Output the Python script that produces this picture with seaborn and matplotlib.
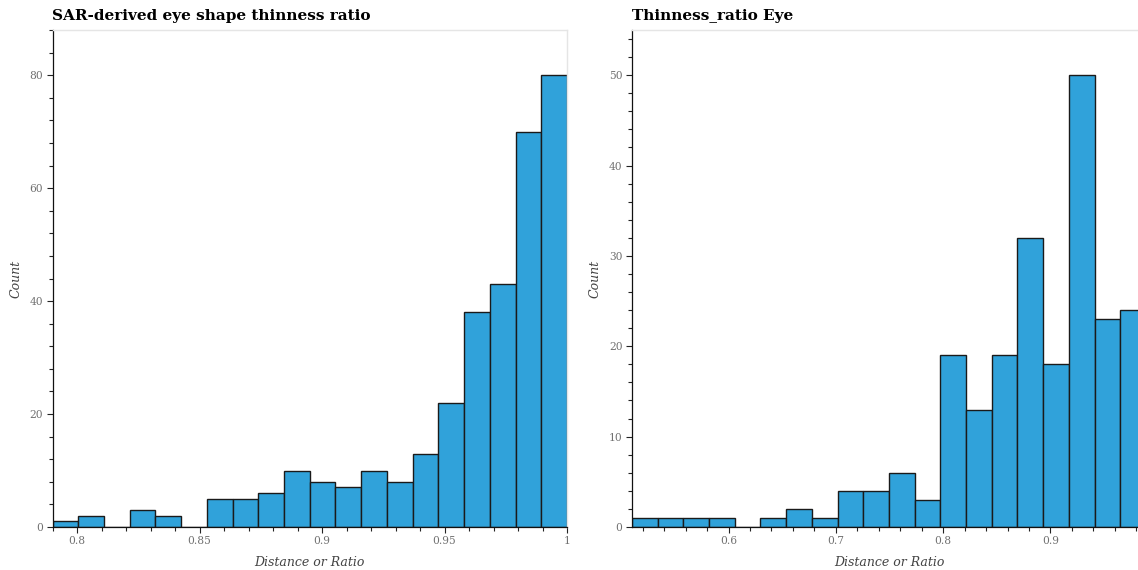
import numpy as np
import pandas as pd
import matplotlib
matplotlib.use("Agg")
import matplotlib.pyplot as plt
from matplotlib.ticker import MultipleLocator, FuncFormatter
import seaborn as sns

# Histogram of SAR-derived thinness ratio (20 bins)
sar_range = (0.79, 1.0)
sar_counts = [1, 2, 0, 3, 2, 0, 5, 5, 6, 10, 8, 7, 10, 8, 13, 22, 38, 43, 70, 80]

# Histogram of eye thinness ratio (20 bins)
eye_range = (0.51, 0.989)
eye_counts = [1, 1, 1, 1, 0, 1, 2, 1, 4, 4, 6, 3, 19, 13, 19, 32, 18, 50, 23, 24]

titles = ["SAR-derived eye shape thinness ratio", "Thinness_ratio Eye"]
x_label = "Distance or Ratio"
y_label = "Count"
sar_xticks = [0.8, 0.85, 0.9, 0.95, 1.0]
eye_xticks = [0.6, 0.7, 0.8, 0.9]

sns.set_style("ticks")
plt.rcParams["font.family"] = ["DejaVu Serif"]

BAR = "#30a2da"
OUTLINE = "#e5e5e5"

fig = plt.figure(figsize=(11.38, 5.70), dpi=100)
W, H = 1138, 570
ax_l = fig.add_axes([52.5 / W, 43 / H, 514.5 / W, 497 / H])
ax_r = fig.add_axes([632 / W, 43 / H, 514 / W, 497 / H])


def draw(ax, rng, counts, title, xticks, xminor, ymajor, yminor):
    edges = np.linspace(rng[0], rng[1], len(counts) + 1)
    df = pd.DataFrame({"ratio": (edges[:-1] + edges[1:]) / 2,
                       "count": counts})
    sns.histplot(data=df, x="ratio", weights="count", bins=list(edges), ax=ax,
                 color=BAR, edgecolor="#1a1a1a", linewidth=1.0, alpha=1)
    ax.set_xlim(edges[0], edges[-1])
    ax.set_ylim(0, max(counts) * 1.1)
    ax.set_xticks(xticks)
    ax.xaxis.set_major_formatter(FuncFormatter(lambda v, p: f"{v:g}"))
    ax.xaxis.set_minor_locator(MultipleLocator(xminor))
    ax.yaxis.set_major_locator(MultipleLocator(ymajor))
    ax.yaxis.set_minor_locator(MultipleLocator(yminor))
    ax.tick_params(which="major", direction="out", length=4.3, width=0.8,
                   color="#222222", labelsize=7.7, labelcolor="#707070", pad=2.5)
    ax.tick_params(which="minor", direction="out", length=2.9, width=0.8,
                   color="#222222")
    for side in ("left", "bottom"):
        ax.spines[side].set_color("#111111")
        ax.spines[side].set_linewidth(0.9)
    for side in ("top", "right"):
        ax.spines[side].set_visible(True)
        ax.spines[side].set_color(OUTLINE)
        ax.spines[side].set_linewidth(1.0)
    ax.set_xlabel(x_label, fontsize=9.0, fontstyle="italic", color="#444444",
                  labelpad=7)
    ax.set_ylabel(y_label, fontsize=9.0, fontstyle="italic", color="#444444",
                  labelpad=5)
    ax.set_title(title, loc="left", fontsize=11.0, fontweight="bold",
                 color="black", pad=7.5)


draw(ax_l, sar_range, sar_counts, titles[0], sar_xticks, 0.01, 20, 4)
draw(ax_r, eye_range, eye_counts, titles[1], eye_xticks, 0.02, 10, 2)

fig.savefig("out.png", dpi=100)
